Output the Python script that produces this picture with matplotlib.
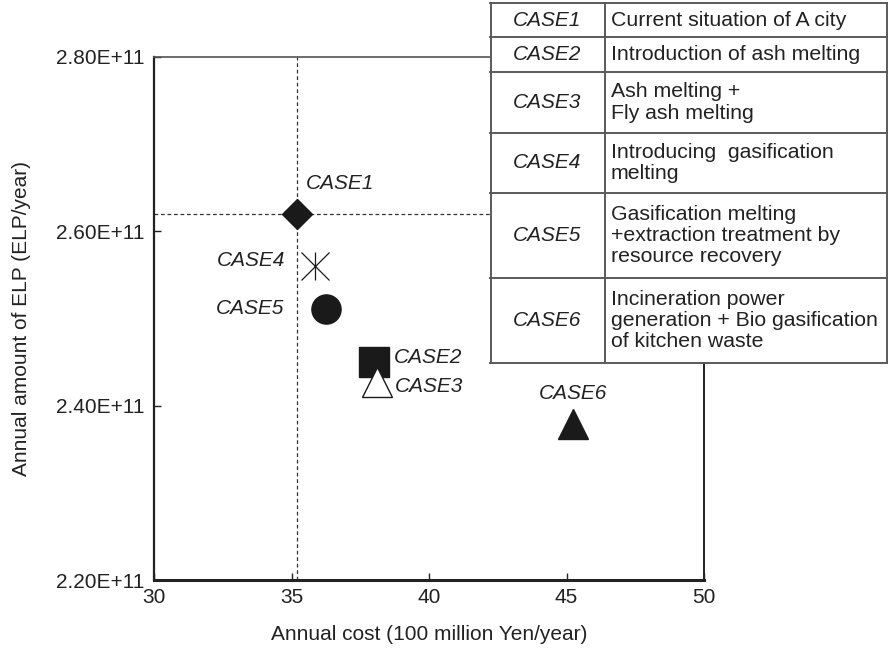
import matplotlib
matplotlib.use('Agg')
import matplotlib.pyplot as plt
from matplotlib.ticker import FuncFormatter

plt.rcParams['font.family'] = ['Liberation Sans', 'DejaVu Sans']

# data
cases = ['CASE1', 'CASE2', 'CASE3', 'CASE4', 'CASE5', 'CASE6']
cost = [35.2, 38.0, 38.1, 35.85, 36.25, 45.25]          # 100 million Yen/year
elp = [2.620e11, 2.450e11, 2.427e11, 2.560e11, 2.511e11, 2.379e11]  # ELP/year

descriptions = [
    'Current situation of A city',
    'Introduction of ash melting',
    'Ash melting +\nFly ash melting',
    'Introducing  gasification\nmelting',
    'Gasification melting\n+extraction treatment by\nresource recovery',
    'Incineration power\ngeneration + Bio gasification\nof kitchen waste',
]

x_ticks = [30, 35, 40, 45, 50]
y_ticks = [2.2e11, 2.4e11, 2.6e11, 2.8e11]

# styles
markers = ['D', 's', '^', 'asterisk', 'o', '^']
msizes = [15, 21, 22, 20, 21, 22]
faces = ['#1a1a1a', '#1a1a1a', 'white', 'none', '#1a1a1a', '#1a1a1a']
# label offsets in pixels (dx, dy, ha)
offsets = [(9, 30, 'left'), (20, 5, 'left'), (18, -4, 'left'),
           (-30, 6, 'right'), (-42, 0, 'right'), (0, 30, 'center')]

fig = plt.figure(figsize=(8.88, 6.52), dpi=100)
ax = fig.add_axes([154 / 888, 1 - 580 / 652, (704 - 154) / 888, (580 - 57) / 652])

ax.axvline(cost[0], color='#333333', lw=0.9, dashes=(3, 2.2), zorder=1)
ax.axhline(elp[0], color='#333333', lw=0.9, dashes=(3, 2.2), zorder=1)

for i in range(len(cases)):
    if markers[i] == 'asterisk':
        ax.plot(cost[i], elp[i], marker='x', ms=msizes[i], mew=0.9,
                color='#1a1a1a', ls='none', zorder=3)
        ax.plot(cost[i], elp[i], marker='|', ms=msizes[i], mew=0.9,
                color='#1a1a1a', ls='none', zorder=3)
    else:
        ax.plot(cost[i], elp[i], marker=markers[i], ms=msizes[i],
                mfc=faces[i], mec='#1a1a1a', mew=1.0, ls='none', zorder=3)
    dx, dy, ha = offsets[i]
    ax.annotate(cases[i], (cost[i], elp[i]), xytext=(dx, dy),
                textcoords='offset pixels', ha=ha, va='center',
                fontsize=15, style='italic', color='#222222', zorder=4)

ax.set_xlim(30, 50)
ax.set_ylim(2.2e11, 2.8e11)
ax.set_xticks(x_ticks)
ax.set_yticks(y_ticks)
ax.yaxis.set_major_formatter(FuncFormatter(lambda v, p: f'{v:.2E}'))
ax.tick_params(axis='y', direction='in', length=5, width=1, labelsize=15,
               colors='#222222', pad=7)
ax.tick_params(axis='x', direction='in', length=5, width=1, labelsize=15,
               colors='#222222', pad=6)
ax.set_xlabel('Annual cost (100 million Yen/year)', fontsize=15,
              color='#222222', labelpad=13)
ax.set_ylabel('Annual amount of ELP (ELP/year)', fontsize=15,
              color='#222222', labelpad=18)

ax.spines['left'].set_linewidth(1.6)
ax.spines['bottom'].set_linewidth(2.2)
ax.spines['top'].set_linewidth(1.2)
ax.spines['top'].set_color('#555555')
ax.spines['right'].set_linewidth(1.4)
for s in ['left', 'bottom', 'right']:
    ax.spines[s].set_color('#222222')

# description table (upper right, over the axes)
tab = fig.add_axes([490 / 888, 1 - 363 / 652, 398 / 888, 361 / 652], zorder=5)
tab.set_xlim(490, 888)
tab.set_ylim(363, 2)
tab.axis('off')
tab.add_patch(plt.Rectangle((490, 2), 398, 361, facecolor='white',
                            edgecolor='none', zorder=0))
rows = [3, 37, 72, 133, 193, 278, 363]
line_c = '#5a5a5a'
for r in rows:
    tab.plot([490, 888], [r, r], color=line_c, lw=1.4, clip_on=False)
for c in [490.7, 605, 887.3]:
    tab.plot([c, c], [3, 363], color=line_c, lw=1.4, clip_on=False)
for i in range(len(cases)):
    yc = (rows[i] + rows[i + 1]) / 2
    tab.text(547, yc, cases[i], ha='center', va='center', fontsize=15,
             style='italic', color='#222222')
    tab.text(611, yc, descriptions[i], ha='left', va='center', fontsize=15.3,
             color='#222222', linespacing=1.15)

fig.savefig('out.png', dpi=100)
